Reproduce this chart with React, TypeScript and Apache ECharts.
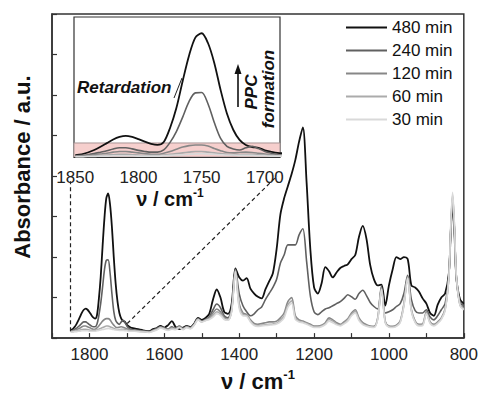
import React, { useEffect, useRef } from 'react';
import * as echarts from 'echarts';

const FONT = "'Liberation Sans', Arial, Helvetica, sans-serif";

// wavenumbers (cm-1): fine steps in the carbonyl region, 10 cm-1 elsewhere
const wavenumbers = [
  1850, 1845, 1840, 1835, 1830, 1825, 1820, 1815, 1810, 1805,
  1800, 1795, 1790, 1785, 1780, 1775, 1770, 1765, 1760, 1755,
  1750, 1745, 1740, 1735, 1730, 1725, 1720, 1715, 1710, 1705,
  1700, 1695, 1690,
  1680, 1670, 1660, 1650, 1640, 1630, 1620, 1610, 1600, 1590,
  1580, 1570, 1560, 1550, 1540, 1530, 1520, 1510, 1500, 1490,
  1480, 1470, 1460, 1450, 1440, 1430, 1420, 1410, 1400, 1390,
  1380, 1370, 1360, 1350, 1340, 1330, 1320, 1310, 1300, 1290,
  1280, 1270, 1260, 1250, 1240, 1230, 1220, 1210, 1200, 1190,
  1180, 1170, 1160, 1150, 1140, 1130, 1120, 1110, 1100, 1090,
  1080, 1070, 1060, 1050, 1040, 1030, 1020, 1010, 1000, 990,
  980, 970, 960, 950, 940, 930, 920, 910, 900, 890,
  880, 870, 860, 850, 840, 835, 830, 825, 820, 810,
  800,
];

const abs480 = [
  0.20, 0.22, 0.27, 0.34, 0.43, 0.53, 0.63, 0.70, 0.73, 0.70,
  0.64, 0.57, 0.51, 0.48, 0.56, 0.95, 1.50, 2.25, 2.95, 3.45,
  3.57, 3.30, 2.75, 2.00, 1.35, 0.90, 0.62, 0.48, 0.42, 0.40,
  0.33, 0.29, 0.26,
  0.24, 0.22, 0.20, 0.18, 0.17, 0.22, 0.25, 0.30, 0.26, 0.32,
  0.42, 0.28, 0.22, 0.26, 0.30, 0.27, 0.36, 0.50, 0.45, 0.50,
  0.60, 0.95, 1.20, 1.00, 0.65, 0.60, 0.85, 1.72, 1.50, 1.42,
  1.48, 1.22, 1.10, 1.02, 0.98, 1.20, 1.40, 1.60, 2.20, 3.05,
  3.45, 3.75, 4.05, 4.40, 4.85, 5.20, 3.85, 2.20, 1.25, 1.10,
  1.35, 1.75, 1.65, 1.50, 1.62, 1.73, 1.78, 1.82, 1.95, 2.05,
  2.50, 2.77, 2.45, 1.80, 1.45, 1.30, 1.32, 0.80, 1.30, 1.70,
  2.00, 1.95, 2.00, 1.95, 1.30, 1.25, 1.15, 0.98, 0.85, 0.62,
  0.55, 0.82, 1.00, 1.10, 1.60, 2.60, 3.30, 2.60, 1.50, 0.95,
  0.85,
];

const abs240 = [
  0.18, 0.19, 0.21, 0.24, 0.28, 0.32, 0.37, 0.40, 0.40, 0.37,
  0.33, 0.30, 0.28, 0.28, 0.34, 0.55, 0.85, 1.25, 1.68, 1.92,
  1.93, 1.62, 1.10, 0.66, 0.44, 0.37, 0.34, 0.40, 0.44, 0.38,
  0.30, 0.25, 0.21,
  0.20, 0.19, 0.18, 0.17, 0.16, 0.20, 0.24, 0.28, 0.25, 0.22,
  0.28, 0.24, 0.30, 0.24, 0.29, 0.26, 0.35, 0.48, 0.42, 0.46,
  0.52, 0.70, 0.84, 0.75, 0.55, 0.50, 0.75, 1.70, 1.10, 0.80,
  0.65, 0.55, 0.60, 0.70, 0.77, 0.95, 1.10, 1.25, 1.45, 1.85,
  2.05, 2.30, 2.30, 2.30, 2.55, 2.70, 1.90, 1.05, 0.65, 0.58,
  0.65, 0.72, 0.75, 0.80, 0.85, 0.90, 0.98, 1.07, 1.02, 0.96,
  1.10, 1.18, 1.05, 0.88, 0.78, 0.72, 1.28, 0.62, 0.65, 0.70,
  0.78, 0.85, 1.10, 1.55, 0.95, 0.68, 0.62, 0.62, 0.70, 0.52,
  0.45, 0.55, 0.70, 0.85, 1.55, 2.60, 3.40, 2.65, 1.50, 0.88,
  0.80,
];

const abs120 = [
  0.17, 0.18, 0.19, 0.21, 0.23, 0.25, 0.28, 0.30, 0.30, 0.28,
  0.26, 0.24, 0.22, 0.22, 0.25, 0.30, 0.36, 0.42, 0.46, 0.48,
  0.48, 0.45, 0.38, 0.32, 0.27, 0.26, 0.27, 0.28, 0.27, 0.25,
  0.23, 0.21, 0.20,
  0.19, 0.18, 0.17, 0.16, 0.15, 0.19, 0.22, 0.27, 0.24, 0.21,
  0.26, 0.23, 0.28, 0.23, 0.28, 0.25, 0.34, 0.47, 0.41, 0.45,
  0.50, 0.62, 0.72, 0.65, 0.50, 0.46, 0.70, 1.68, 0.85, 0.62,
  0.58, 0.45, 0.36, 0.34, 0.36, 0.38, 0.40, 0.40, 0.42, 0.50,
  0.62, 0.90, 1.00, 0.55, 0.45, 0.42, 0.38, 0.34, 0.30, 0.30,
  0.32, 0.38, 0.50, 0.45, 0.38, 0.34, 0.40, 0.48, 0.62, 0.70,
  0.50, 0.38, 0.33, 0.30, 0.29, 0.50, 1.25, 0.42, 0.30, 0.29,
  0.32, 0.42, 0.85, 1.52, 0.70, 0.42, 0.34, 0.35, 0.65, 0.40,
  0.34, 0.40, 0.50, 0.72, 1.50, 2.65, 3.50, 2.70, 1.50, 0.82,
  0.75,
];

const abs60 = [
  0.16, 0.16, 0.17, 0.18, 0.19, 0.20, 0.21, 0.22, 0.22, 0.21,
  0.20, 0.19, 0.19, 0.19, 0.20, 0.22, 0.24, 0.26, 0.28, 0.30,
  0.30, 0.28, 0.26, 0.24, 0.22, 0.21, 0.21, 0.22, 0.22, 0.21,
  0.20, 0.19, 0.18,
  0.18, 0.17, 0.16, 0.15, 0.15, 0.18, 0.21, 0.26, 0.23, 0.20,
  0.24, 0.22, 0.27, 0.22, 0.27, 0.24, 0.33, 0.46, 0.40, 0.44,
  0.48, 0.56, 0.65, 0.60, 0.48, 0.45, 0.68, 1.66, 0.78, 0.58,
  0.56, 0.42, 0.33, 0.31, 0.32, 0.33, 0.34, 0.35, 0.37, 0.44,
  0.55, 0.82, 0.92, 0.50, 0.42, 0.40, 0.36, 0.32, 0.28, 0.28,
  0.30, 0.35, 0.46, 0.42, 0.35, 0.32, 0.37, 0.45, 0.58, 0.66,
  0.46, 0.35, 0.31, 0.28, 0.27, 0.48, 1.22, 0.40, 0.28, 0.27,
  0.30, 0.40, 0.82, 1.50, 0.68, 0.40, 0.32, 0.33, 0.62, 0.38,
  0.32, 0.38, 0.48, 0.70, 1.50, 2.70, 3.55, 2.75, 1.52, 0.80,
  0.72,
];

const abs30 = [
  0.15, 0.15, 0.16, 0.16, 0.17, 0.17, 0.18, 0.18, 0.18, 0.18,
  0.17, 0.17, 0.17, 0.17, 0.18, 0.19, 0.20, 0.21, 0.22, 0.23,
  0.24, 0.23, 0.22, 0.21, 0.20, 0.20, 0.19, 0.19, 0.19, 0.18,
  0.18, 0.17, 0.17,
  0.17, 0.16, 0.15, 0.15, 0.14, 0.17, 0.20, 0.25, 0.22, 0.19,
  0.22, 0.21, 0.26, 0.21, 0.26, 0.23, 0.32, 0.45, 0.40, 0.43,
  0.46, 0.52, 0.60, 0.56, 0.46, 0.44, 0.66, 1.64, 0.74, 0.55,
  0.54, 0.40, 0.31, 0.29, 0.30, 0.31, 0.32, 0.33, 0.35, 0.40,
  0.50, 0.76, 0.86, 0.46, 0.40, 0.38, 0.34, 0.30, 0.26, 0.26,
  0.28, 0.33, 0.42, 0.38, 0.33, 0.30, 0.35, 0.42, 0.55, 0.62,
  0.43, 0.33, 0.29, 0.27, 0.26, 0.46, 1.20, 0.38, 0.27, 0.26,
  0.29, 0.38, 0.80, 1.48, 0.66, 0.38, 0.30, 0.31, 0.60, 0.36,
  0.30, 0.36, 0.46, 0.68, 1.50, 2.75, 3.60, 2.80, 1.55, 0.80,
  0.70,
];

const seriesNames = ['480 min', '240 min', '120 min', '60 min', '30 min'];
const seriesValues = [abs480, abs240, abs120, abs60, abs30];
const seriesColors = ['#111111', '#606060', '#878787', '#ababab', '#d9d9d9'];
const seriesWidths = [1.8, 1.6, 1.6, 1.6, 1.6];

const mainTickLabels = [1800, 1600, 1400, 1200, 1000, 800];
const insetTickLabels = [1850, 1800, 1750, 1700];

// zoom guide lines (data space of the main chart)
const guideLeft = [[1850, 0.17], [1850, 3.87]];
const guideRight = [[1699, 0.36], [1299, 4.0]];
// highlighted low-absorbance band of the inset
const bandRange = [0.146, 0.534];

const nameRich = (big: number, small: number) => ({
  a: { fontSize: big, fontWeight: 'bold', color: '#111', fontFamily: FONT, lineHeight: big + 4 },
  b: { fontSize: small, fontWeight: 'bold', color: '#111', fontFamily: FONT, verticalAlign: 'top', lineHeight: small + 2 },
});

export default function App() {
  const ref = useRef<HTMLDivElement>(null);

  useEffect(() => {
    if (!ref.current) return;
    const chart = echarts.init(ref.current, undefined, { renderer: 'svg' });

    const mainSeries = seriesNames.map((name, i) => ({
      type: 'line',
      name,
      xAxisIndex: 0,
      yAxisIndex: 0,
      data: wavenumbers.map((w, j) => [w, seriesValues[i][j]]),
      symbol: 'none',
      smooth: 0.3,
      lineStyle: { color: seriesColors[i], width: seriesWidths[i] },
      itemStyle: { color: seriesColors[i] },
      z: 3,
    }));

    const insetSeries = seriesNames.map((name, i) => ({
      type: 'line',
      name,
      xAxisIndex: 1,
      yAxisIndex: 1,
      data: wavenumbers
        .map((w, j) => [w, seriesValues[i][j]])
        .filter((p) => p[0] >= 1680),
      symbol: 'none',
      smooth: 0.3,
      lineStyle: { color: seriesColors[i], width: seriesWidths[i] },
      itemStyle: { color: seriesColors[i] },
      z: 6,
    }));

    const option: any = {
      animation: false,
      backgroundColor: '#ffffff',
      textStyle: { fontFamily: FONT },
      legend: {
        data: seriesNames,
        orient: 'vertical',
        left: 346,
        top: 19,
        icon: 'rect',
        itemWidth: 41,
        itemHeight: 1.8,
        itemGap: 6,
        padding: 0,
        textStyle: { fontSize: 17, color: '#111', fontFamily: FONT, lineHeight: 17 },
      },
      grid: [
        { left: 52, right: 16, top: 14, bottom: 50, show: true, borderColor: '#333', borderWidth: 1.5, backgroundColor: 'transparent', z: 0 },
        { left: 74, top: 17, width: 206, height: 140, show: true, borderColor: '#333', borderWidth: 1.2, backgroundColor: '#ffffff', z: 4 },
      ],
      xAxis: [
        {
          gridIndex: 0,
          type: 'value',
          inverse: true,
          min: 800,
          max: 1900,
          interval: 100,
          axisLine: { show: true, lineStyle: { color: '#333', width: 1.5 } },
          axisTick: { show: true, inside: true, length: 5, lineStyle: { color: '#333', width: 1.2 } },
          axisLabel: {
            fontSize: 17,
            color: '#222',
            fontFamily: FONT,
            margin: 8,
            hideOverlap: false,
            formatter: (v: number) => (mainTickLabels.indexOf(v) >= 0 ? String(v) : ''),
          },
          splitLine: { show: false },
          name: '{a|ν / cm}{b|-1}',
          nameLocation: 'middle',
          nameGap: 26,
          nameTextStyle: { rich: nameRich(22, 13) },
        },
        {
          gridIndex: 1,
          type: 'value',
          inverse: true,
          min: 1688,
          max: 1851,
          axisLine: { show: true, lineStyle: { color: '#333', width: 1.2 } },
          axisTick: { show: false },
          axisLabel: {
            fontSize: 17,
            color: '#222',
            fontFamily: FONT,
            margin: 12,
            customValues: insetTickLabels,
            formatter: (v: number) => String(v),
            showMinLabel: true,
            showMaxLabel: true,
            hideOverlap: false,
          },
          splitLine: { show: false },
          name: '{a|ν / cm}{b|-1}',
          nameLocation: 'middle',
          nameGap: 28,
          nameTextStyle: { rich: nameRich(20, 12), padding: [0, 14, 0, 0] },
          z: 5,
        },
      ],
      yAxis: [
        {
          gridIndex: 0,
          type: 'value',
          min: 0,
          max: 8,
          interval: 1,
          axisLine: { show: true, lineStyle: { color: '#333', width: 1.5 } },
          axisTick: { show: true, inside: true, length: 5, lineStyle: { color: '#333', width: 1.2 } },
          axisLabel: { show: false },
          splitLine: { show: false },
          name: 'Absorbance / a.u.',
          nameLocation: 'middle',
          nameGap: 19,
          nameTextStyle: { fontSize: 22, fontWeight: 'bold', color: '#111', fontFamily: FONT, padding: [0, 0, 0, 18] },
        },
        {
          gridIndex: 1,
          type: 'value',
          min: bandRange[0],
          max: 4.02,
          show: false,
          splitLine: { show: false },
        },
      ],
      series: [
        ...mainSeries,
        {
          type: 'line',
          name: 'guides',
          xAxisIndex: 0,
          yAxisIndex: 0,
          data: [guideLeft[0]],
          symbol: 'none',
          lineStyle: { width: 0, opacity: 0 },
          silent: true,
          z: 2,
          markLine: {
            silent: true,
            symbol: ['none', 'none'],
            label: { show: false },
            lineStyle: { type: [4, 3], color: '#222', width: 1.2 },
            data: [
              [{ coord: guideLeft[0] }, { coord: guideLeft[1] }],
              [{ coord: guideRight[0] }, { coord: guideRight[1] }],
            ],
          },
        },
        {
          type: 'line',
          name: 'band',
          xAxisIndex: 1,
          yAxisIndex: 1,
          data: [[1850, bandRange[0]]],
          symbol: 'none',
          lineStyle: { width: 0, opacity: 0 },
          silent: true,
          z: 5,
          markArea: {
            silent: true,
            z: 5,
            itemStyle: { color: '#f6cfcd', borderColor: '#a89696', borderWidth: 1, opacity: 1 },
            data: [[{ xAxis: 1688, yAxis: bandRange[0] }, { xAxis: 1851, yAxis: bandRange[1] }]],
          },
        },
        ...insetSeries,
      ],
      graphic: [
        {
          type: 'text',
          left: 77,
          top: 79,
          z: 20,
          style: { text: 'Retardation', font: `italic bold 17px ${FONT}`, fill: '#111' },
        },
        {
          type: 'line',
          z: 20,
          shape: { x1: 174, y1: 98, x2: 182, y2: 78 },
          style: { stroke: '#222', lineWidth: 1 },
        },
        {
          type: 'line',
          z: 20,
          shape: { x1: 238, y1: 107, x2: 238, y2: 72 },
          style: { stroke: '#111', lineWidth: 1.6 },
        },
        {
          type: 'polygon',
          z: 20,
          shape: { points: [[238, 64], [234.5, 74], [241.5, 74]] },
          style: { fill: '#111' },
        },
        {
          type: 'text',
          x: 251,
          y: 92,
          rotation: Math.PI / 2,
          z: 20,
          style: { text: 'PPC', font: `italic bold 17px ${FONT}`, fill: '#111', align: 'center', verticalAlign: 'middle' },
        },
        {
          type: 'text',
          x: 268,
          y: 89,
          rotation: Math.PI / 2,
          z: 20,
          style: { text: 'formation', font: `italic bold 17px ${FONT}`, fill: '#111', align: 'center', verticalAlign: 'middle' },
        },
      ],
    };

    chart.setOption(option);
    return () => chart.dispose();
  }, []);

  return (
    <div
      ref={ref}
      style={{ position: 'fixed', left: 0, top: 0, width: 481, height: 397, background: '#fff' }}
    />
  );
}
